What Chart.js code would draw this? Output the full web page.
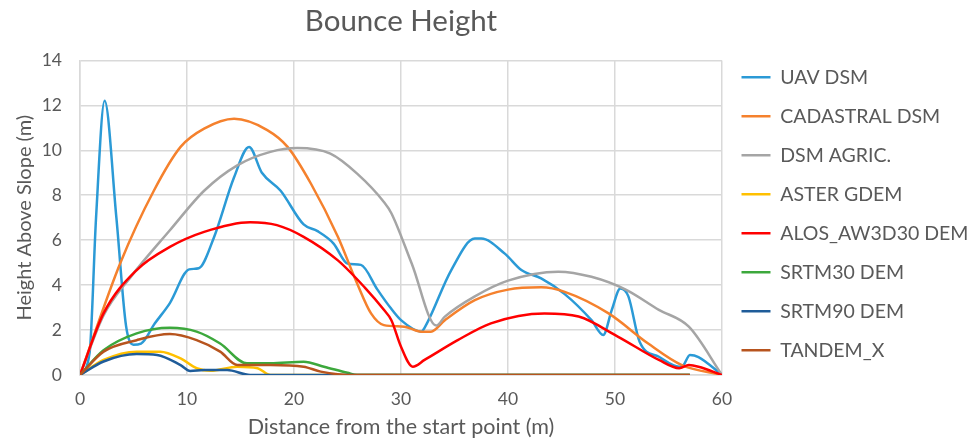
<!DOCTYPE html>
<html>
<head>
<meta charset="utf-8">
<script src="https://cdn.jsdelivr.net/npm/chart.js@4"></script>
<style>
  body { margin: 0; background: #fff; }
  #wrap { width: 976px; height: 446px; }
</style>
</head>
<body>
<div id="wrap"><canvas id="cvs" width="976" height="446"></canvas></div>
<script>
// distance (m), height above slope (m)
const uavDsm = [[0,0],[0.9,1],[1.5,7],[2.3,12.2],[3.4,7],[4.3,2.2],[5,1.35],[5.7,1.4],[7,2.3],[8.4,3.2],[10.2,4.7],[11.1,4.75],[12.5,6.1],[14.4,8.8],[15.8,10.15],[17,9.0],[18.75,8.2],[20.9,6.7],[22.2,6.4],[23.7,5.85],[25,4.96],[26.25,4.9],[27.8,3.8],[29,3.0],[30,2.44],[31.9,1.93],[32.2,2.1],[34.7,4.67],[36.9,6.07],[37.5,6.07],[39.7,5.4],[41.25,4.67],[43.1,4.3],[45.3,3.6],[47.8,2.44],[48.9,1.78],[49.7,2.9],[50.5,3.85],[51.25,3.5],[52.3,1.48],[54.1,0.81],[56,0.37],[56.4,0.44],[57,0.89],[57.8,0.8],[60,0]]
const cadastralDsm = [[0,0],[3.75,4.96],[6.9,8.2],[9.4,10.15],[11.6,10.96],[14.4,11.4],[17.5,10.9],[19.4,10.15],[21.6,8.5],[24.1,6.15],[25.9,4.07],[27.2,2.74],[28.4,2.22],[30.3,2.15],[31.9,1.93],[32.8,1.93],[34.1,2.44],[36.9,3.33],[40,3.8],[43.1,3.9],[45.3,3.7],[49.4,2.74],[53.1,1.4],[56.25,0.44],[60,0]]
const dsmAgric = [[0,0],[2.2,2.65],[4.8,4.4],[8.4,6.44],[11.6,8.2],[14.7,9.33],[17.8,9.93],[20.3,10.1],[23.4,9.85],[25.9,8.96],[28.4,7.7],[29.1,7.2],[31,4.96],[33.3,2.2],[34.1,2.6],[36.9,3.5],[40,4.2],[44.7,4.6],[47.8,4.37],[51,3.8],[54.1,2.9],[56.9,2.15],[60,0]]
const asterGdem = [[0,0],[2.2,0.67],[5.3,1.04],[7.5,1.04],[9.4,0.74],[10.9,0.3],[12.2,0.19],[14.7,0.37],[16.6,0.3],[17.8,0],[57,0]]
const alosDem = [[0,0],[2.2,2.74],[5.3,4.67],[8.4,5.7],[11.6,6.37],[15.9,6.8],[18.4,6.67],[20.9,6.15],[24.1,5.1],[26.6,3.9],[28.4,2.9],[29.1,2.44],[30,1.26],[31.1,0.37],[32.2,0.67],[35.3,1.55],[38.4,2.3],[43.4,2.74],[46.6,2.6],[50.3,1.7],[54.1,0.67],[56,0.3],[56.9,0.44],[57.8,0.37],[60,0]]
const srtm30 = [[0,0],[2.2,1.1],[5.3,1.85],[8.4,2.1],[10.9,1.93],[13.1,1.4],[15.6,0.52],[17.8,0.52],[20.9,0.59],[22.8,0.37],[25,0.1],[25.9,0],[57,0]]
const srtm90 = [[0,0],[2.2,0.6],[5.3,0.93],[7.2,0.89],[9.4,0.44],[10.3,0.18],[11.6,0.22],[13.75,0.22],[15.9,0],[57,0]]
const tandemX = [[0,0],[2.2,1.04],[5.3,1.55],[8.4,1.82],[10.9,1.55],[13.1,1.04],[14.7,0.44],[17.8,0.44],[20.9,0.37],[22.5,0.15],[25.6,0],[57,0]]

const names = ['UAV DSM', 'CADASTRAL DSM', 'DSM AGRIC.', 'ASTER GDEM', 'ALOS_AW3D30 DEM', 'SRTM30 DEM', 'SRTM90 DEM', 'TANDEM_X']
const series = [uavDsm, cadastralDsm, dsmAgric, asterGdem, alosDem, srtm30, srtm90, tandemX]
const colors = ['#2b9ad6', '#f5812d', '#a5a5a5', '#ffc000', '#ff0000', '#3ca83c', '#1f5c99', '#b7541e']

const textColor = '#595959'
const gridColor = '#d9d9d9'
const fontFam = 'Lato, sans-serif'

// later series are painted on top, like in the original
const datasets = series.map((s, i) => ({
    label: names[i],
    data: s.map(p => ({x: p[0], y: p[1]})),
    borderColor: colors[i],
    backgroundColor: colors[i],
    borderWidth: 2.5,
    pointRadius: 0,
    cubicInterpolationMode: 'monotone',
    order: series.length - i,
    fill: false
}))

new Chart(document.getElementById('cvs'), {
    type: 'line',
    data: { datasets: datasets },
    options: {
        responsive: false,
        devicePixelRatio: 1,
        animation: false,
        layout: { padding: { left: 6, right: 0, top: 0, bottom: 6 } },
        plugins: {
            title: {
                display: true,
                fullSize: false,
                text: 'Bounce Height',
                color: textColor,
                font: { family: fontFam, size: 29.5, weight: 'normal' },
                padding: { top: 4, bottom: 21 }
            },
            legend: {
                position: 'right',
                align: 'start',
                maxWidth: 254,
                title: { display: true, text: '', font: { size: 10 }, padding: { top: 36, bottom: 0 } },
                labels: {
                    color: textColor,
                    font: { family: fontFam, size: 19.5 },
                    usePointStyle: true,
                    pointStyle: 'line',
                    pointStyleWidth: 29,
                    padding: 19.5,
                    sort: (a, b) => a.datasetIndex - b.datasetIndex
                }
            },
            tooltip: { enabled: false }
        },
        scales: {
            x: {
                type: 'linear',
                min: 0,
                max: 60,
                afterFit: (scale) => { scale.height = 65 },
                ticks: { stepSize: 10, color: textColor, font: { family: fontFam, size: 17.5 }, padding: 13.5 },
                grid: { color: gridColor, lineWidth: 1.5, drawTicks: false },
                border: { color: gridColor, width: 1.5 },
                title: { display: true, text: 'Distance from the start point (m)', color: textColor, font: { family: fontFam, size: 21.5 }, padding: { top: 6, bottom: 0 } }
            },
            y: {
                min: 0,
                max: 14,
                afterFit: (scale) => { scale.width = 74 },
                ticks: { stepSize: 2, color: textColor, font: { family: fontFam, size: 17.5 }, padding: 18 },
                grid: { color: gridColor, lineWidth: 1.5, drawTicks: false },
                border: { color: gridColor, width: 1.5 },
                title: { display: true, text: 'Height Above Slope (m)', color: textColor, font: { family: fontFam, size: 20 }, padding: { top: 7, bottom: 5 } }
            }
        }
    }
})
</script>
</body>
</html>
